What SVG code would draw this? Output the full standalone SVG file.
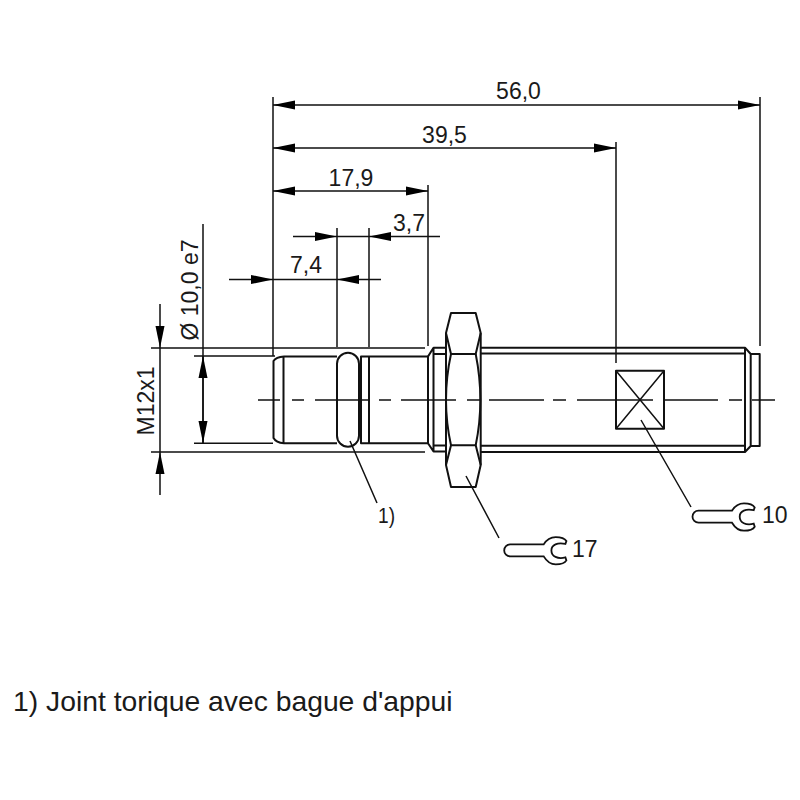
<svg xmlns="http://www.w3.org/2000/svg" xmlns:xlink="http://www.w3.org/1999/xlink" width="800" height="800" viewBox="0 0 800 800">
<style>
text{font-family:"Liberation Sans",Arial,sans-serif;fill:#1a1a1a}
.d{font-size:23px}
.t{fill:none;stroke:#111;stroke-width:2;stroke-linejoin:round}
.f{fill:none;stroke:#111;stroke-width:1.5}
.a{fill:#000;stroke:none}
</style>
<defs>
<polygon id="ah" class="a" points="0,0 -22,-4.500 -22,4.500"/>
<path id="wr" fill="none" stroke="#111" stroke-width="1.8" d="M40,0H6.500A6,6 0 0 0 6.500,12H40C43,17 48,20 52,20C57,20 61,19 62.700,16L61.700,13C54,15 47.700,12 47.700,6C47.700,0 54,-2 61.700,-0.500L62.700,-3.300C61,-6 57,-7.300 52,-7.300C48,-7.300 43,-5 40,0Z"/>
</defs>
<rect width="800" height="800" fill="#fff"/>
<g id="extension-lines" class="f">
<path d="M273 97V356M337 228V347M369 228V347M428 185V346M616 142V363M760 97V346M203 224V443M151 348H425M151 452H425M194 356H275M194 443.300H273"/>
</g>
<g id="connectors" class="f">
<path d="M273 105H760M273 148H616M273 191H428M293 236.500H440M229 279.500H381M160 304V495M203 356V443"/>
<path d="M350 441L377 503M466 476L499 538M641 420L691 507"/>
<use xlink:href="#ah" href="#ah" transform="translate(273,105) rotate(180)"/>
<use xlink:href="#ah" href="#ah" transform="translate(760,105)"/>
<use xlink:href="#ah" href="#ah" transform="translate(273,148) rotate(180)"/>
<use xlink:href="#ah" href="#ah" transform="translate(616,148)"/>
<use xlink:href="#ah" href="#ah" transform="translate(273,191) rotate(180)"/>
<use xlink:href="#ah" href="#ah" transform="translate(428,191)"/>
<use xlink:href="#ah" href="#ah" transform="translate(337,236.500)"/>
<use xlink:href="#ah" href="#ah" transform="translate(369,236.500) rotate(180)"/>
<use xlink:href="#ah" href="#ah" transform="translate(273,279.500)"/>
<use xlink:href="#ah" href="#ah" transform="translate(337,279.500) rotate(180)"/>
<use xlink:href="#ah" href="#ah" transform="translate(160,348) rotate(90)"/>
<use xlink:href="#ah" href="#ah" transform="translate(160,452) rotate(-90)"/>
<use xlink:href="#ah" href="#ah" transform="translate(203,356) rotate(-90)"/>
<use xlink:href="#ah" href="#ah" transform="translate(203,443) rotate(90)"/>
</g>
<g id="sensor-tip" class="t">
<path d="M337 356.500H284Q276 357 273.500 361V438Q276 442.500 284 443.300H337M283.500 356.500V443.300"/>
<rect x="337" y="352.700" width="22" height="94" rx="11" ry="11"/>
<path d="M428 356.500H361V443.300H428M369 356.500V443.300"/>
</g>
<g id="flange" class="t">
<path d="M428 356.500V443.300L433.500 451.500H446M428 356.500L433.500 347.700H446M433.500 347.700V451.500M433.500 354H446M433.500 445.500H446"/>
</g>
<g id="nut" class="t">
<path d="M451 313H475.700L480.700 333V465L475.700 487H451L446 465V333Z"/>
<path d="M446 333L451 354H475.700L480.700 333M446 465L451 445.300H475.700L480.700 465"/>
<path d="M451 354Q441 400 451 445.300M475.700 354Q485 400 475.700 445.300"/>
</g>
<g id="threaded-body" class="t">
<path d="M481 347.700H745L750.700 354V446L745 452H481M481 353.500H745M481 445.700H745M745 347.700V452M750.700 354H759.700V446H750.700"/>
</g>
<g id="square-mark" class="t">
<rect x="616" y="370.700" width="48" height="58"/>
<path d="M616 370.700L664 428.700M664 370.700L616 428.700" stroke-width="1.500"/>
</g>
<g id="centerline" class="f">
<path d="M258 400H280M292 400H304M315 400H368M379 400H391M401 400H456M467 400H480M489 400H544M553 400H566M577 400H653M665 400H718M729 400H742M752 400H775"/>
</g>
<g id="wrench-10"><use xlink:href="#wr" href="#wr" transform="translate(692,510.700)"/></g>
<g id="wrench-17"><use xlink:href="#wr" href="#wr" transform="translate(503.700,544.400)"/></g>
<g id="labels">
<text class="d" x="518.500" y="99" text-anchor="middle">56,0</text>
<text class="d" x="444.500" y="143" text-anchor="middle">39,5</text>
<text class="d" x="351" y="186" text-anchor="middle">17,9</text>
<text class="d" x="409" y="231" text-anchor="middle">3,7</text>
<text class="d" x="306" y="273" text-anchor="middle">7,4</text>
<text class="d" transform="translate(154,401) rotate(-90)" text-anchor="middle">M12x1</text>
<text class="d" transform="translate(198,290) rotate(-90)" text-anchor="middle">Ø 10,0 e7</text>
<text x="378" y="523" font-size="22" textLength="17" lengthAdjust="spacingAndGlyphs">1)</text>
<text class="d" x="572" y="557">17</text>
<text class="d" x="762" y="523">10</text>
<text x="13" y="711" font-size="28.300">1) Joint torique avec bague d'appui</text>
</g>
</svg>
